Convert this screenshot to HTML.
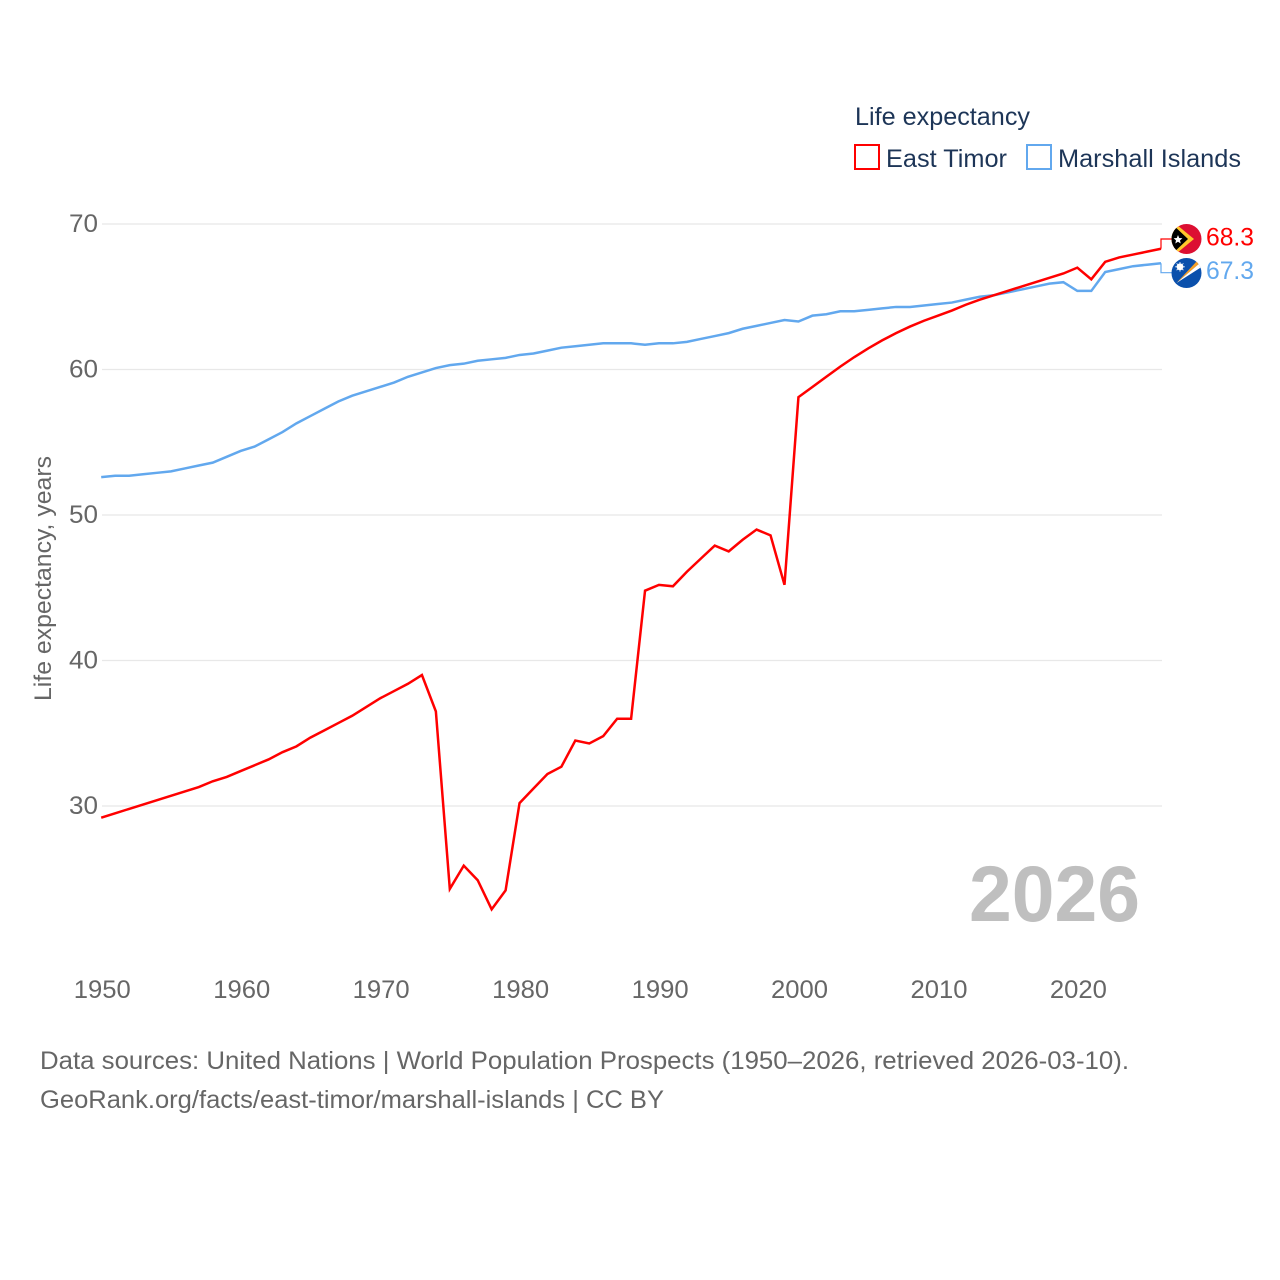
<!DOCTYPE html>
<html lang="en">
<head>
<meta charset="utf-8">
<title>Life expectancy: East Timor and Marshall Islands</title>
<style>
html,body{margin:0;padding:0;background:#fff;}
svg{display:block;}
text{font-family:"Liberation Sans",sans-serif;}
</style>
</head>
<body>
<svg id="chart" xmlns="http://www.w3.org/2000/svg" width="1280" height="1280" viewBox="0 0 1280 1280">
  <defs>
    <clipPath id="flag-clip-a"><circle cx="1186.5" cy="239" r="15"/></clipPath>
    <clipPath id="flag-clip-b"><circle cx="1186.5" cy="273" r="15"/></clipPath>
  </defs>
  <rect width="1280" height="1280" fill="#ffffff"/>

  <g id="grid"></g>
  <g id="yticks"></g>
  <g id="xticks"></g>

  <text transform="translate(51,701) rotate(-90)" font-size="24" fill="#666666" textLength="245" lengthAdjust="spacingAndGlyphs">Life expectancy, years</text>

  <text x="969" y="921" font-size="79" font-weight="700" fill="#bfbfbf" textLength="171" lengthAdjust="spacingAndGlyphs">2026</text>

  <g id="series"></g>

  <g>
    <text x="855" y="125" font-size="25" fill="#1d3557" textLength="175" lengthAdjust="spacingAndGlyphs">Life expectancy</text>
    <rect x="855" y="145" width="24" height="24" fill="#ffffff" stroke="#ff0000" stroke-width="2"/>
    <text x="886" y="167" font-size="25" fill="#1d3557" textLength="121" lengthAdjust="spacingAndGlyphs">East Timor</text>
    <rect x="1027" y="145" width="24" height="24" fill="#ffffff" stroke="#62a8ee" stroke-width="2"/>
    <text x="1058" y="167" font-size="25" fill="#1d3557" textLength="183" lengthAdjust="spacingAndGlyphs">Marshall Islands</text>
  </g>

  <g clip-path="url(#flag-clip-a)">
    <rect x="1171" y="223" width="31" height="32" fill="#dc0f32"/>
    <polygon points="1171,220 1194,239 1171,258" fill="#ffc72c"/>
    <polygon points="1171,223 1188,239 1171,255" fill="#000000"/>
    <polygon points="1178,235 1179.2,238 1182.4,238.3 1180,240.4 1180.7,243.5 1178,241.8 1175.3,243.5 1176,240.4 1173.6,238.3 1176.8,238" fill="#ffffff"/>
  </g>
  <g clip-path="url(#flag-clip-b)">
    <rect x="1171" y="257" width="31" height="32" fill="#0a50ac"/>
    <polygon points="1176.5,283 1197,261 1200,263" fill="#f5a028"/>
    <polygon points="1176.5,283 1200,263 1201.5,267" fill="#ffffff"/>
    <circle cx="1180" cy="266.8" r="3.4" fill="#ffffff"/>
    <path d="M1180 262V271.6M1175.2 266.8H1184.8M1176.6 263.4L1183.4 270.2M1183.4 263.4L1176.6 270.2" stroke="#ffffff" stroke-width="0.8"/>
  </g>

  <text x="1206" y="245.5" font-size="25" fill="#ff0000" textLength="48" lengthAdjust="spacingAndGlyphs">68.3</text>
  <text x="1206" y="279" font-size="25" fill="#62a8ee" textLength="48" lengthAdjust="spacingAndGlyphs">67.3</text>

  <text x="40" y="1069" font-size="25" fill="#666666" textLength="1089" lengthAdjust="spacingAndGlyphs">Data sources: United Nations | World Population Prospects (1950–2026, retrieved 2026-03-10).</text>
  <a><text x="40" y="1108" font-size="25" fill="#666666" textLength="624" lengthAdjust="spacingAndGlyphs">GeoRank.org/facts/east-timor/marshall-islands | CC BY</text></a>
</svg>
<script>
const years = [1950,1951,1952,1953,1954,1955,1956,1957,1958,1959,1960,1961,1962,1963,1964,1965,1966,1967,1968,1969,1970,1971,1972,1973,1974,1975,1976,1977,1978,1979,1980,1981,1982,1983,1984,1985,1986,1987,1988,1989,1990,1991,1992,1993,1994,1995,1996,1997,1998,1999,2000,2001,2002,2003,2004,2005,2006,2007,2008,2009,2010,2011,2012,2013,2014,2015,2016,2017,2018,2019,2020,2021,2022,2023,2024,2025,2026];
const eastTimor = [29.2,29.5,29.8,30.1,30.4,30.7,31.0,31.3,31.7,32.0,32.4,32.8,33.2,33.7,34.1,34.7,35.2,35.7,36.2,36.8,37.4,37.9,38.4,39.0,36.5,24.3,25.9,24.9,22.9,24.2,30.2,31.2,32.2,32.7,34.5,34.3,34.8,36.0,36.0,44.8,45.2,45.1,46.1,47.0,47.9,47.5,48.3,49.0,48.6,45.2,58.1,58.8,59.5,60.2,60.85,61.45,62.0,62.5,62.95,63.35,63.7,64.05,64.45,64.8,65.1,65.4,65.7,66.0,66.3,66.6,67.0,66.2,67.4,67.7,67.9,68.1,68.3];
const marshallIslands = [52.6,52.7,52.7,52.8,52.9,53.0,53.2,53.4,53.6,54.0,54.4,54.7,55.2,55.7,56.3,56.8,57.3,57.8,58.2,58.5,58.8,59.1,59.5,59.8,60.1,60.3,60.4,60.6,60.7,60.8,61.0,61.1,61.3,61.5,61.6,61.7,61.8,61.8,61.8,61.7,61.8,61.8,61.9,62.1,62.3,62.5,62.8,63.0,63.2,63.4,63.3,63.7,63.8,64.0,64.0,64.1,64.2,64.3,64.3,64.4,64.5,64.6,64.8,65.0,65.1,65.3,65.5,65.7,65.9,66.0,65.4,65.4,66.7,66.9,67.1,67.2,67.3];
const yTicks = [30,40,50,60,70];
const xTicks = [1950,1960,1970,1980,1990,2000,2010,2020];

const NS = 'http://www.w3.org/2000/svg';
function xScale(v){ return 101.2 + (v - 1950) * (1161 - 101.2) / 76; }
function yScale(v){ return 806 - (v - 30) * (806 - 224) / 40; }
function make(tag, parent, attrs){
  const el = document.createElementNS(NS, tag);
  for (const k in attrs) el.setAttribute(k, attrs[k]);
  parent.appendChild(el);
  return el;
}

const grid = document.getElementById('grid');
const yGroup = document.getElementById('yticks');
yTicks.forEach(function(t){
  const line = make('line', grid, {x1:102, x2:1162, y1:yScale(t), y2:yScale(t), stroke:'#e8e8e8', 'stroke-width':1.2});
  
  
  const label = make('text', yGroup, {x:98, y:yScale(t) + 8, 'text-anchor':'end', 'font-size':25, fill:'#666666', textLength:29, lengthAdjust:'spacingAndGlyphs'});
  label.textContent = String(t);
  
  
});

const xGroup = document.getElementById('xticks');
xTicks.forEach(function(t){
  const label = make('text', xGroup, {x:xScale(t) - 27.4, y:998, 'font-size':25, fill:'#666666', textLength:57, lengthAdjust:'spacingAndGlyphs'});
  label.textContent = String(t);
  
  
});

function drawSeries(name, values, color, labelY){
  const group = document.getElementById('series');
  const pts = values.map(function(v, i){ return xScale(years[i]).toFixed(2) + ',' + yScale(v).toFixed(2); }).join(' ');
  const line = make('polyline', group, {points:pts, fill:'none', stroke:color, 'stroke-width':2.5, 'stroke-linejoin':'miter', 'stroke-miterlimit':4});
  
  
  const endX = xScale(years[years.length - 1]);
  const endY = yScale(values[values.length - 1]);
  const conn = make('polyline', group, {points:endX + ',' + endY + ' ' + endX + ',' + labelY + ' 1172,' + labelY, fill:'none', stroke:color, 'stroke-width':1.2});
  
  
}
drawSeries('marshall-islands', marshallIslands, '#62a8ee', 272.7);
drawSeries('east-timor', eastTimor, '#ff0000', 239);
</script>
</body>
</html>
